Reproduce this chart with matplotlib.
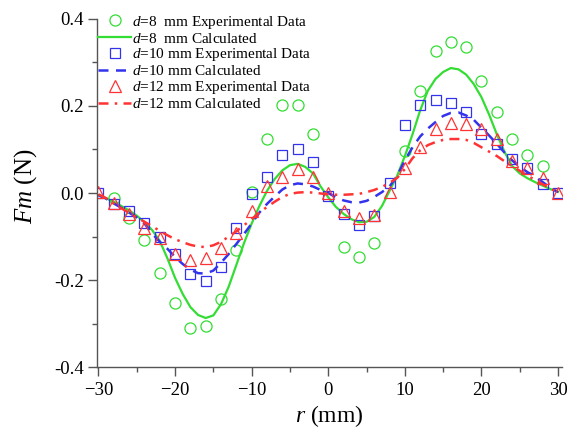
import matplotlib
matplotlib.use("Agg")
import matplotlib.pyplot as plt
from matplotlib.ticker import MultipleLocator, FormatStrFormatter

nan = float("nan")

plt.rcParams["font.family"] = "Liberation Serif"
plt.rcParams["mathtext.fontset"] = "custom"
plt.rcParams["mathtext.rm"] = "Liberation Serif"
plt.rcParams["mathtext.it"] = "Liberation Serif:italic"

# experimental points, every 2 mm (nan where no circle shows)
r_exp = list(range(-30, 31, 2))
exp_d8 = [nan, -0.012, -0.057, -0.107, -0.183, -0.252, -0.31, -0.305, -0.244, -0.131,
          0.003, 0.124, 0.202, 0.202, 0.136, nan, -0.124, -0.147, -0.114, nan,
          0.097, 0.234, 0.326, 0.347, 0.336, 0.257, 0.186, 0.125, 0.087, 0.062, nan]
exp_d10 = [0.0, -0.025, -0.042, -0.069, -0.10, -0.14, -0.185, -0.203, -0.169, -0.081,
           -0.002, 0.036, 0.088, 0.10, 0.071, -0.007, -0.048, -0.073, -0.053, 0.023,
           0.156, 0.202, 0.214, 0.207, 0.186, 0.136, 0.113, 0.078, 0.057, 0.021, 0.0]
exp_d12 = [0.002, -0.023, -0.048, -0.08, -0.104, -0.14, -0.154, -0.15, -0.126, -0.092,
           -0.042, 0.015, 0.037, 0.055, 0.037, 0.0, -0.041, -0.057, -0.05, 0.002,
           0.058, 0.106, 0.147, 0.161, 0.159, 0.147, 0.123, 0.074, 0.057, 0.034, 0.0]

# calculated curves, every 1 mm
r_calc = list(range(-30, 31))
calc_d8 = [-0.005, -0.012, -0.02, -0.03, -0.04, -0.052, -0.067, -0.085, -0.11, -0.15,
           -0.195, -0.232, -0.262, -0.28, -0.287, -0.281, -0.255, -0.215, -0.165, -0.115,
           -0.07, -0.03, 0.005, 0.032, 0.052, 0.064, 0.067, 0.06, 0.045, 0.015,
           -0.01, -0.032, -0.048, -0.06, -0.067, -0.066, -0.055, -0.03, 0.005, 0.04,
           0.085, 0.135, 0.19, 0.235, 0.262, 0.278, 0.287, 0.284, 0.272, 0.25,
           0.22, 0.18, 0.135, 0.095, 0.062, 0.045, 0.034, 0.025, 0.017, 0.009, 0.003]
calc_d10 = [-0.005, -0.013, -0.024, -0.034, -0.045, -0.056, -0.07, -0.093, -0.112, -0.128,
            -0.147, -0.163, -0.176, -0.184, -0.185, -0.178, -0.16, -0.14, -0.117, -0.094,
            -0.07, -0.045, -0.025, -0.008, 0.008, 0.018, 0.022, 0.02, 0.015, 0.007,
            0.0, -0.01, -0.017, -0.021, -0.022, -0.018, -0.009, 0.002, 0.015, 0.04,
            0.075, 0.105, 0.13, 0.148, 0.163, 0.177, 0.184, 0.185, 0.178, 0.168,
            0.15, 0.132, 0.113, 0.093, 0.075, 0.06, 0.048, 0.038, 0.025, 0.012, 0.002]
calc_d12 = [-0.003, -0.012, -0.024, -0.035, -0.046, -0.056, -0.066, -0.076, -0.087, -0.097,
            -0.106, -0.113, -0.119, -0.123, -0.124, -0.12, -0.112, -0.1, -0.088, -0.074,
            -0.06, -0.045, -0.032, -0.02, -0.009, -0.002, 0.001, 0.002, 0.001, -0.001,
            -0.003, -0.004, -0.004, -0.003, -0.002, 0.002, 0.007, 0.014, 0.023, 0.035,
            0.055, 0.08, 0.098, 0.11, 0.117, 0.122, 0.124, 0.124, 0.122, 0.115,
            0.105, 0.095, 0.085, 0.073, 0.062, 0.051, 0.04, 0.03, 0.02, 0.01, 0.002]

green = "#33dd33"
blue = "#3333ee"
red = "#ff3333"
axis_grey = "#555555"

fig = plt.figure(figsize=(5.67, 4.28), dpi=100)
ax = fig.add_axes([0.171, 0.142, 0.820, 0.814])

ax.plot(r_exp, exp_d8, "o", mfc="none", mec=green, ms=8, mew=0.9,
        label="$d$=8  mm Experimental Data")
ax.plot(r_calc, calc_d8, "-", color=green, lw=1.6, label="$d$=8  mm Calculated")
ax.plot(r_exp, exp_d10, "s", mfc="none", mec=blue, ms=7.5, mew=0.9,
        label="$d$=10 mm Experimental Data")
ax.plot(r_calc, calc_d10, color=blue, lw=1.8, dashes=(4, 3),
        label="$d$=10 mm Calculated")
ax.plot(r_exp, exp_d12, "^", mfc="none", mec=red, ms=9, mew=0.9,
        label="$d$=12 mm Experimental Data")
ax.plot(r_calc, calc_d12, color=red, lw=1.8, dashes=(4, 2.5, 1, 2.5),
        label="$d$=12 mm Calculated")

ax.set_xlim(-30.2, 30.5)
ax.set_ylim(-0.4, 0.4)
ax.xaxis.set_major_locator(MultipleLocator(10))
ax.xaxis.set_minor_locator(MultipleLocator(5))
ax.yaxis.set_major_locator(MultipleLocator(0.2))
ax.yaxis.set_minor_locator(MultipleLocator(0.1))
ax.yaxis.set_major_formatter(FormatStrFormatter("%.1f"))

for s in ["top", "right"]:
    ax.spines[s].set_visible(False)
for s in ["left", "bottom"]:
    ax.spines[s].set_color(axis_grey)
    ax.spines[s].set_linewidth(1.0)
ax.tick_params(which="major", direction="out", length=6.5, width=1, color=axis_grey,
               labelsize=13.5)
ax.tick_params(which="minor", direction="out", length=3.5, width=1, color=axis_grey)
ax.tick_params(axis="x", which="major", pad=4)
ax.tick_params(axis="y", which="major", pad=3)

ax.set_xlabel("$r$ (mm)", fontsize=17, labelpad=3)
ax.set_ylabel("$Fm$ (N)", fontsize=18)
ax.yaxis.set_label_coords(-0.125, 0.52)

ax.legend(loc="upper left", bbox_to_anchor=(0.160, 0.986), bbox_transform=fig.transFigure,
          frameon=False, fontsize=11, handlelength=2.15, handletextpad=0.05,
          labelspacing=0.06, borderpad=0.2, borderaxespad=0.3)

fig.savefig("out.png", dpi=100)
